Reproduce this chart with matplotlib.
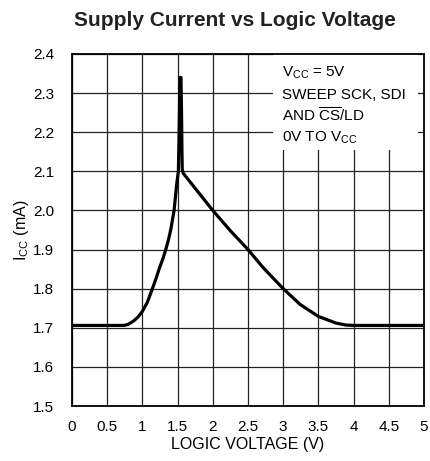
import numpy as np
import matplotlib
matplotlib.use("Agg")
import matplotlib.pyplot as plt
from matplotlib.patches import Rectangle

fam = ['Liberation Sans Narrow', 'Liberation Sans', 'DejaVu Sans']
plt.rcParams['font.family'] = fam
plt.rcParams['mathtext.fontset'] = 'custom'
plt.rcParams['mathtext.rm'] = 'Liberation Sans'
plt.rcParams['mathtext.it'] = 'Liberation Sans'

# supply current curve
volts = [0, 0.5, 0.74, 0.8, 0.88, 0.94, 1.0, 1.07, 1.142, 1.19, 1.237, 1.29, 1.332, 1.37, 1.403,
         1.45, 1.489, 1.511, 1.522, 1.53, 1.536, 1.548, 1.556, 1.562, 1.566, 1.58,
         2.0, 2.25, 2.5, 2.714, 3.0, 3.238, 3.5, 3.75, 3.89, 4.0, 4.5, 5.0]
icc = [1.706, 1.706, 1.706, 1.709, 1.718, 1.728, 1.742, 1.765, 1.8, 1.824, 1.85, 1.876, 1.9, 1.925, 1.951,
       2.0, 2.07, 2.1, 2.2, 2.3, 2.34, 2.34, 2.25, 2.15, 2.105, 2.095,
       2.0, 1.948, 1.9, 1.854, 1.8, 1.76, 1.729, 1.712, 1.707, 1.706, 1.706, 1.706]

xticks = [0, 0.5, 1, 1.5, 2, 2.5, 3, 3.5, 4, 4.5, 5]
xlabels = ['0', '0.5', '1', '1.5', '2', '2.5', '3', '3.5', '4', '4.5', '5']
yticks = [1.5, 1.6, 1.7, 1.8, 1.9, 2.0, 2.1, 2.2, 2.3, 2.4]
ylabels = ['1.5', '1.6', '1.7', '1.8', '1.9', '2.0', '2.1', '2.2', '2.3', '2.4']

note = [r'V$_{\rm CC}$ = 5V', 'SWEEP SCK, SDI', r'AND $\overline{\rm CS}$/LD', r'0V TO V$_{\rm CC}$']

fig = plt.figure(figsize=(4.31, 4.61), dpi=100)
ax = fig.add_axes([72/431, 55/461, 352/431, 352/461])

ax.plot(volts, icc, color='black', lw=2.3, solid_joinstyle='round', zorder=4)

ax.set_xlim(0, 5)
ax.set_ylim(1.5, 2.4)
ax.set_xticks(xticks)
ax.set_xticklabels(xlabels)
ax.set_yticks(yticks)
ax.set_yticklabels(ylabels)
ax.tick_params(length=0, labelsize=11)
ax.tick_params(axis='x', pad=10)
ax.tick_params(axis='y', pad=13)
ax.grid(True, color='#222222', lw=0.9)
ax.set_axisbelow(True)
for s in ax.spines.values():
    s.set_linewidth(1.3)
    s.set_zorder(5)

ax.add_patch(Rectangle((2.86, 2.155), 2.06, 0.25, facecolor='white', edgecolor='none', zorder=2))
for i, line in enumerate(note):
    ax.text(2.98, 2.351 - i * 0.055, line, fontsize=11, va='center', ha='left', zorder=3)

ax.set_xlabel('LOGIC VOLTAGE (V)', fontsize=11.5, labelpad=2.5)
ax.set_ylabel(r'I$_{\rm CC}$ (mA)', fontsize=11.5, labelpad=1)

fig.text(235/431, 1 - 20/461, 'Supply Current vs Logic Voltage', fontsize=15, fontweight='bold',
         ha='center', va='center', color='#222222')

fig.savefig('out.png', dpi=100)
